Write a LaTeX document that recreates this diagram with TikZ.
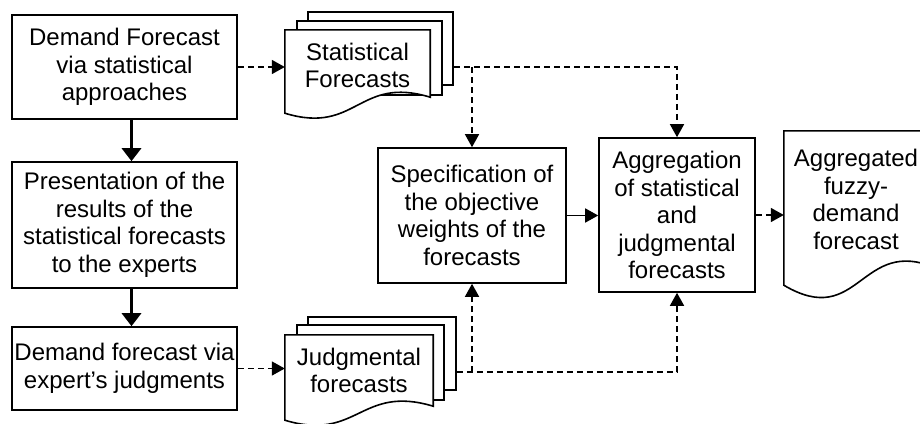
\documentclass[tikz,border=0pt]{standalone}
\usepackage{fontspec}
\setmainfont{Liberation Sans}
\usepackage{tikz}
\usetikzlibrary{arrows.meta}
\tikzstyle{procbox}=[draw, line width=1.6pt, fill=white, align=center, inner sep=0pt]
\tikzstyle{sheet}=[draw, line width=1.6pt, fill=white, inner sep=0pt]
\tikzstyle{docfront}=[inner sep=0pt]
\tikzstyle{doctext}=[align=center, inner sep=0pt]
\tikzstyle{flowarrow}=[line width=1.5pt, -{Triangle[length=13pt, width=14pt]}]
\tikzstyle{dashflow}=[flowarrow, dash pattern=on 6pt off 4pt]
\tikzstyle{thickflow}=[line width=3.5pt, -{Triangle[length=13pt, width=19pt]}]

\begin{document}
\begin{tikzpicture}[x=1pt, y=-1pt, font=\fontsize{24}{27.5}\selectfont]
        \useasboundingbox (0,0) rectangle (920,423);
        \clip (0,0) rectangle (920,423);

        % Left column
        \node[procbox, minimum width=225pt, minimum height=104pt] (stat) at (124.5,67) {Demand Forecast\\via statistical\\approaches};
        \node[procbox, minimum width=225pt, minimum height=126pt] (pres) at (124.5,225) {Presentation of the\\results of the\\statistical forecasts\\to the experts};
        \node[procbox, minimum width=225pt, minimum height=83pt] (judg) at (124.5,368.5) {Demand forecast via\\expert's judgments};
        \draw[thickflow] ([xshift=7pt]stat.south) -- ([xshift=7pt]pres.north);
        \draw[thickflow] ([xshift=7pt]pres.south) -- ([xshift=7pt]judg.north);

        % Statistical forecasts stack
        \node[sheet, minimum width=145pt, minimum height=73pt] (statback) at (380.5,48.5) {};
        \node[sheet, minimum width=145pt, minimum height=74pt] (statmid) at (369.5,58) {};
        \node[docfront, minimum width=145pt, minimum height=67pt] (statdoc) at (357.5,63.5) {};
        \draw[line width=1.6pt, fill=white] (statdoc.north west) -- (statdoc.north east) -- (statdoc.south east)
            .. controls +(-72,-22) and +(72,22) .. ([yshift=-16pt]statdoc.south west) -- cycle;
        \node[doctext] (stattext) at ([yshift=-2pt]statdoc.center) {Statistical\\Forecasts};

        % Judgmental forecasts stack
        \node[sheet, minimum width=148pt, minimum height=73pt] (judgback) at (382,353.5) {};
        \node[sheet, minimum width=147pt, minimum height=75pt] (judgmid) at (370.5,362.5) {};
        \node[docfront, minimum width=148pt, minimum height=71pt] (judgdoc) at (359,370.5) {};
        \draw[line width=1.6pt, fill=white] (judgdoc.north west) -- (judgdoc.north east) -- (judgdoc.south east)
            .. controls +(-73,-22) and +(73,22) .. ([yshift=-14pt]judgdoc.south west) -- cycle;
        \node[doctext] (judgtext) at (judgdoc) {Judgmental\\forecasts};

        % Weights and aggregation
        \node[procbox, minimum width=188pt, minimum height=135pt] (spec) at (472,215.5) {Specification of\\the objective\\weights of the\\forecasts};
        \node[procbox, minimum width=156pt, minimum height=154pt] (aggr) at (677,215) {Aggregation\\of statistical\\and\\judgmental\\forecasts};

        % Final document
        \node[docfront, minimum width=152pt, minimum height=137pt] (final) at (860,199.5) {};
        \draw[line width=1.6pt, fill=white] (final.north west) -- (final.north east) -- (final.south east)
            .. controls +(-76,-33) and +(76,45) .. ([yshift=-17pt]final.south west) -- cycle;
        \node[doctext] (finaltext) at ([xshift=-4pt]final.center) {Aggregated\\fuzzy-\\demand\\forecast};

        % Connectors
        \draw[dashflow] (stat.east) -- (stat.east -| statdoc.west);
        \draw[dashflow] (judg.east) -- (judg.east -| judgdoc.west);
        \draw[dashflow] (stat.east -| statback.east) -| (aggr.north);
        \draw[dashflow] (stat.east -| spec.north) -- (spec.north);
        \coordinate (jrow) at (460,372);
        \draw[dashflow] (jrow -| judgback.east) -| (aggr.south);
        \draw[dashflow] (jrow -| spec.south) -- (spec.south);
        \draw[flowarrow] (spec.east) -- (spec.east -| aggr.west);
        \draw[dashflow] (aggr.east) -- (aggr.east -| final.west);
\end{tikzpicture}
\end{document}
